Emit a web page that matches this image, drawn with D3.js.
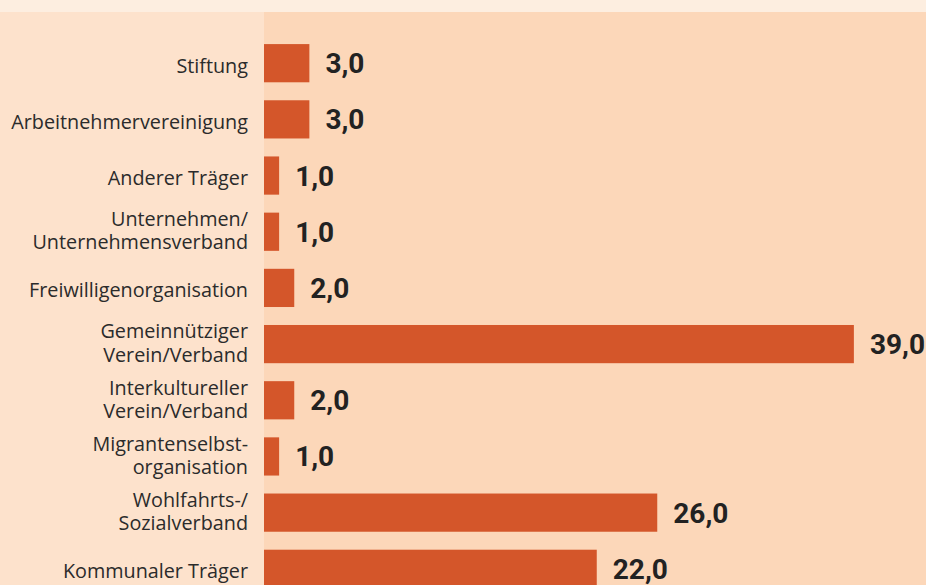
<!DOCTYPE html>
<html>
<head>
<meta charset="utf-8">
<script src="https://cdn.jsdelivr.net/npm/d3@7"></script>
<style>
  html, body { margin: 0; padding: 0; background: #fde2cc; }
  svg { display: block; }
</style>
</head>
<body>
<div id="chart"></div>
<script>
// Kategorien (Zeilenumbruch mit \n)
const categories = [
    "Stiftung",
    "Arbeitnehmervereinigung",
    "Anderer Träger",
    "Unternehmen/\nUnternehmensverband",
    "Freiwilligenorganisation",
    "Gemeinnütziger\nVerein/Verband",
    "Interkultureller\nVerein/Verband",
    "Migrantenselbst-\norganisation",
    "Wohlfahrts-/\nSozialverband",
    "Kommunaler Träger"
];
const values = [3.0, 3.0, 1.0, 1.0, 2.0, 39.0, 2.0, 1.0, 26.0, 22.0];

const W = 926, H = 585;
const PLOT_LEFT = 264;
const TOP_STRIP = 12;

const data = categories.map((c, i) => ({ cat: c, val: values[i] }));

const svg = d3.select("#chart")
    .append("svg")
    .attr("width", W)
    .attr("height", H);

// Hintergründe
svg.append("rect").attr("x", 0).attr("y", 0).attr("width", W).attr("height", H).attr("fill", "#fde2cc");
svg.append("rect").attr("x", 0).attr("y", 0).attr("width", W).attr("height", TOP_STRIP).attr("fill", "#fdeee0");
svg.append("rect").attr("x", PLOT_LEFT).attr("y", TOP_STRIP).attr("width", W - PLOT_LEFT).attr("height", H - TOP_STRIP).attr("fill", "#fcd7b9");

const xScale = d3.scaleLinear()
    .domain([0, 40])
    .range([PLOT_LEFT, PLOT_LEFT + 605]);

const yScale = d3.scaleBand()
    .domain(categories)
    .range([16, 616])
    .paddingInner(0.32)
    .paddingOuter(0.5);

const fmt = v => d3.format(".1f")(v).replace(".", ",");

const rows = svg.selectAll("g.row")
    .data(data)
    .enter()
    .append("g")
    .attr("class", "row");

rows.append("rect")
    .attr("x", xScale(0))
    .attr("y", d => yScale(d.cat))
    .attr("width", d => xScale(d.val) - xScale(0))
    .attr("height", yScale.bandwidth())
    .attr("fill", "#d4562a");

rows.append("text")
    .attr("x", d => xScale(d.val) + 16)
    .attr("y", d => yScale(d.cat) + yScale.bandwidth() / 2 + 10)
    .attr("font-family", "Roboto, sans-serif")
    .attr("font-weight", "bold")
    .attr("font-size", 28)
    .attr("fill", "#222222")
    .text(d => fmt(d.val));

// Beschriftungen links, ggf. zweizeilig
const LINE_H = 23.5;
rows.append("text")
    .attr("text-anchor", "end")
    .attr("font-family", "'Open Sans', sans-serif")
    .attr("font-size", 19.8)
    .attr("fill", "#2b2b2b")
    .each(function (d) {
        const lines = d.cat.split("\n");
        const cy = yScale(d.cat) + yScale.bandwidth() / 2;
        const first = lines.length > 1 ? cy + 6 - LINE_H / 2 : cy + 9.5;
        lines.forEach((l, i) => {
            d3.select(this).append("tspan")
                .attr("x", 248)
                .attr("y", first + i * LINE_H)
                .text(l);
        });
    });
</script>
</body>
</html>
